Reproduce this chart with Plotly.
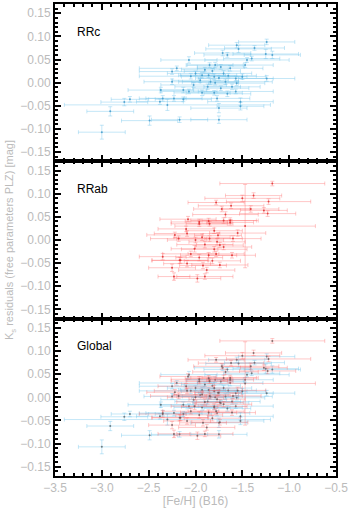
import plotly.graph_objects as go
from plotly.subplots import make_subplots

# RRc stars: [Fe/H], residual, and errors
rrc_feh = [-3.00, -2.91, -2.76, -2.70, -2.30, -2.49, -1.24, -1.37, -1.54, -1.71,
           -1.66, -1.25, -2.07, -1.45, -1.85, -1.79, -1.73, -1.63, -1.47, -2.25,
           -2.00, -1.93, -1.86, -1.80, -1.75, -1.70, -1.57, -1.50, -1.24, -1.84,
           -1.79, -1.68, -1.56, -2.25, -1.87, -1.73, -1.61, -2.37, -2.07, -2.13,
           -1.93, -1.80, -1.66, -1.57, -2.35, -2.23, -2.13, -1.77, -1.52, -2.38,
           -1.75, -1.52, -2.17, -1.75, -1.18, -1.90, -1.82, -1.95, -1.65, -2.02,
           -1.40, -1.56, -2.20, -2.05]
rrc_res = [-0.107, -0.062, -0.042, -0.036, -0.048, -0.082, 0.088, 0.075, 0.073, 0.064,
           0.060, 0.062, 0.049, 0.049, 0.038, 0.038, 0.034, 0.031, 0.038, 0.024,
           0.020, 0.016, 0.016, 0.013, 0.010, 0.020, 0.009, 0.013, 0.009, 0.002,
           0.000, 0.002, -0.001, 0.002, -0.009, -0.012, -0.009, -0.016, -0.019, -0.016,
           -0.022, -0.022, -0.024, -0.019, -0.034, -0.034, -0.036, -0.034, -0.041, -0.041,
           -0.055, -0.051, -0.080, -0.080, 0.060, 0.028, 0.025, 0.005, 0.015, -0.005,
           0.052, 0.081, 0.031, 0.014]
rrc_feh_err = [0.25, 0.25, 0.25, 0.20, 1.10, 0.30, 0.30, 0.32, 0.35, 0.30,
               0.25, 0.35, 0.30, 0.45, 0.25, 0.30, 0.25, 0.35, 0.30, 0.35,
               0.30, 0.25, 0.30, 0.35, 0.25, 0.30, 0.40, 0.25, 0.30, 0.30,
               0.25, 0.50, 0.30, 0.30, 0.35, 0.30, 0.30, 0.35, 0.30, 0.25,
               0.30, 0.30, 0.25, 0.40, 0.25, 0.30, 0.30, 0.35, 0.35, 0.25,
               0.30, 0.25, 0.30, 0.30, 0.30, 0.25, 0.30, 0.30, 0.30, 0.35,
               0.30, 0.30, 0.40, 0.55]
rrc_res_err = [0.015, 0.010, 0.008, 0.006, 0.012, 0.010, 0.006, 0.005, 0.008, 0.006,
               0.005, 0.010, 0.007, 0.005, 0.005, 0.006, 0.005, 0.006, 0.005, 0.006,
               0.005, 0.006, 0.005, 0.006, 0.005, 0.006, 0.005, 0.006, 0.006, 0.006,
               0.005, 0.006, 0.005, 0.006, 0.006, 0.005, 0.006, 0.006, 0.005, 0.006,
               0.006, 0.005, 0.006, 0.005, 0.006, 0.006, 0.005, 0.006, 0.008, 0.006,
               0.010, 0.008, 0.006, 0.008, 0.008, 0.005, 0.006, 0.005, 0.005, 0.005,
               0.005, 0.006, 0.005, 0.006]

# RRab stars
rrab_feh = [-1.18, -1.47, -1.38, -1.22, -1.78, -1.72, -1.62, -1.41, -1.27, -1.23,
            -1.96, -1.85, -1.70, -1.63, -2.09, -2.18, -1.93, -1.85, -1.77, -1.74,
            -1.60, -2.01, -1.86, -1.96, -2.16, -2.09, -1.61, -1.74, -1.98, -1.90,
            -2.23, -2.35, -2.17, -1.96, -1.86, -2.10, -1.63, -1.80, -1.90, -1.80,
            -1.70, -2.05, -1.82, -1.92, -1.76, -2.00, -1.55, -2.22, -1.68, -2.25,
            -1.78, -2.08, -1.88, -1.50]
rrab_res = [0.122, 0.030, 0.096, 0.083, 0.081, 0.067, 0.074, 0.067, 0.064, 0.057,
            0.035, 0.035, 0.042, 0.038, 0.014, 0.003, 0.006, 0.003, -0.004, -0.011,
            0.003, -0.019, -0.033, -0.038, -0.044, -0.051, -0.033, -0.054, -0.083, -0.079,
            -0.079, -0.036, -0.044, 0.039, 0.041, 0.024, 0.042, 0.020, -0.010, -0.020,
            -0.015, -0.030, -0.045, -0.055, 0.010, 0.000, 0.015, 0.011, 0.055, -0.060,
            -0.030, 0.045, -0.065, 0.090]
rrab_feh_err = [0.56, 0.75, 0.30, 0.45, 0.30, 0.30, 0.35, 0.30, 0.25, 0.30,
                0.30, 0.25, 0.35, 0.25, 0.35, 0.30, 0.30, 0.35, 0.30, 0.25,
                0.30, 0.25, 0.30, 0.25, 0.30, 0.25, 0.25, 0.30, 0.25, 0.30,
                0.17, 0.25, 0.30, 0.30, 0.25, 0.30, 0.30, 0.30, 0.30, 0.35,
                0.30, 0.30, 0.30, 0.25, 0.25, 0.30, 0.30, 0.30, 0.35, 0.25,
                0.30, 0.30, 0.30, 0.40]
rrab_res_err = [0.005, 0.090, 0.006, 0.006, 0.005, 0.006, 0.006, 0.007, 0.006, 0.006,
                0.006, 0.005, 0.006, 0.006, 0.006, 0.006, 0.007, 0.006, 0.007, 0.006,
                0.006, 0.007, 0.006, 0.007, 0.006, 0.007, 0.006, 0.006, 0.008, 0.006,
                0.008, 0.007, 0.007, 0.006, 0.006, 0.006, 0.006, 0.006, 0.007, 0.006,
                0.006, 0.006, 0.006, 0.007, 0.006, 0.006, 0.007, 0.006, 0.006, 0.008,
                0.006, 0.006, 0.006, 0.007]

panel_names = ["RRc", "RRab", "Global"]
xticks = [-3.5, -3.0, -2.5, -2.0, -1.5, -1.0, -0.5]

BLUE = "rgba(110,195,235,0.40)"
RED = "rgba(255,95,95,0.34)"
GREY = "#bbbbbb"


def err_trace(x, y, ex, ey, col, mcol):
    return go.Scatter(
        x=x, y=y, mode="markers",
        marker=dict(size=2, color=mcol),
        error_x=dict(type="data", array=ex, color=col, thickness=1, width=2),
        error_y=dict(type="data", array=ey, color=col, thickness=1, width=2),
        showlegend=False, hoverinfo="skip")


fig = make_subplots(rows=3, cols=1, shared_xaxes=True, vertical_spacing=0)

fig.add_trace(err_trace(rrc_feh, rrc_res, rrc_feh_err, rrc_res_err, BLUE, "rgba(60,150,200,0.8)"), 1, 1)
fig.add_trace(err_trace(rrab_feh, rrab_res, rrab_feh_err, rrab_res_err, RED, "rgba(220,40,40,0.8)"), 2, 1)
fig.add_trace(err_trace(rrc_feh, rrc_res, rrc_feh_err, rrc_res_err, BLUE, "rgba(80,80,80,0.7)"), 3, 1)
fig.add_trace(err_trace(rrab_feh, rrab_res, rrab_feh_err, rrab_res_err, RED, "rgba(80,80,80,0.7)"), 3, 1)

for i, name in enumerate(panel_names):
    fig.add_annotation(x=-3.29, y=0.11, text=name, showarrow=False, xanchor="left",
                       font=dict(size=12, color="black"), row=i + 1, col=1)

axis_common = dict(showline=True, linecolor="black", linewidth=2, mirror="ticks",
                   ticks="inside", ticklen=6, tickwidth=1.5, tickcolor="black",
                   showgrid=False, zeroline=False,
                   tickfont=dict(color=GREY, size=12))

for r in range(1, 4):
    fig.update_yaxes(range=[-0.17, 0.17], tickmode="linear", tick0=0, dtick=0.05,
                     tickformat=".2f",
                     minor=dict(dtick=0.01, ticks="inside", ticklen=3,
                                tickcolor="black", showgrid=False),
                     row=r, col=1, **axis_common)
    fig.update_xaxes(range=[-3.5, -0.5], tickmode="array", tickvals=xticks,
                     tickformat=".1f", ticklabeloverflow="allow",
                     minor=dict(tickmode="linear", tick0=-3.5, dtick=0.1, ticks="inside",
                                ticklen=3, tickcolor="black", showgrid=False),
                     row=r, col=1, **axis_common)

fig.update_yaxes(title=dict(text="K<sub>s</sub> residuals (free parameters PLZ) [mag]",
                            font=dict(color=GREY, size=11), standoff=4), row=2, col=1)
fig.update_xaxes(title=dict(text="[Fe/H] (B16)", font=dict(color=GREY, size=12), standoff=2),
                 row=3, col=1)

fig.update_layout(width=350, height=508, margin=dict(l=55, r=12, t=2, b=32),
                  paper_bgcolor="white", plot_bgcolor="white",
                  font=dict(family="Liberation Sans, Arial, sans-serif"))

fig.write_html("out.html", config={"displayModeBar": False},
               post_script="document.body.style.margin='0';")
